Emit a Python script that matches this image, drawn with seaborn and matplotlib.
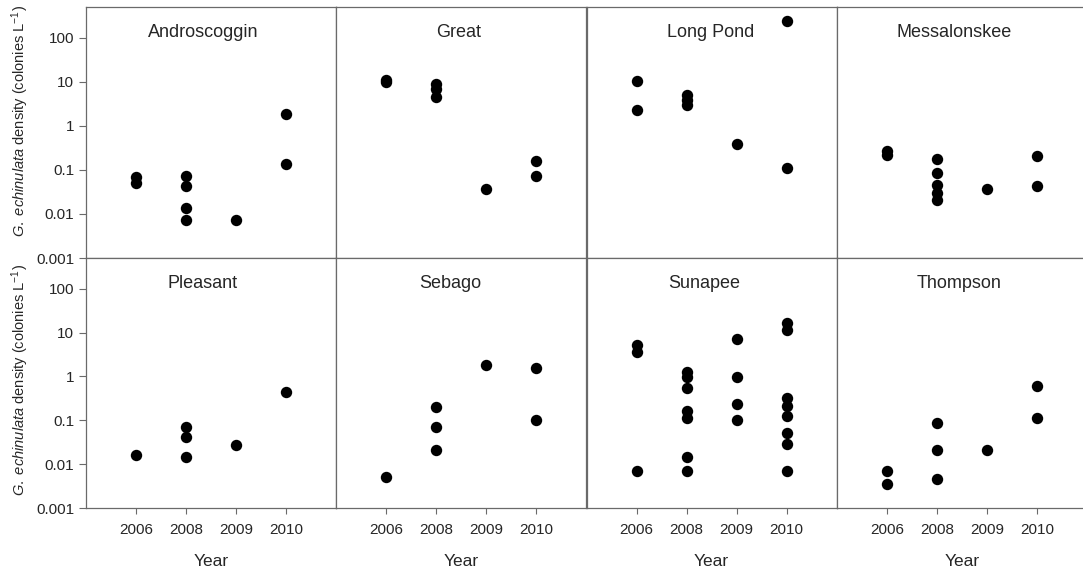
import numpy as np
import pandas as pd
import matplotlib
matplotlib.use("Agg")
import matplotlib.pyplot as plt
from matplotlib.ticker import NullLocator
import seaborn as sns

# Colony density per lake, sampling year -> individual samples (colonies per litre)
years = [2006, 2008, 2009, 2010]
year_labels = ["2006", "2008", "2009", "2010"]
lakes = ["Androscoggin", "Great", "Long Pond", "Messalonskee",
         "Pleasant", "Sebago", "Sunapee", "Thompson"]

androscoggin = {2006: [0.070, 0.051], 2008: [0.074, 0.044, 0.014, 0.0072],
                2009: [0.0072], 2010: [1.9, 0.134]}
great = {2006: [11.0, 10.0], 2008: [8.9, 7.0, 4.6],
         2009: [0.036], 2010: [0.158, 0.072]}
long_pond = {2006: [10.6, 2.28], 2008: [5.0, 3.9, 3.0],
             2009: [0.38], 2010: [243.0, 0.108]}
messalonskee = {2006: [0.27, 0.22], 2008: [0.174, 0.087, 0.046, 0.030, 0.021],
                2009: [0.036], 2010: [0.21, 0.044]}
pleasant = {2006: [0.016], 2008: [0.072, 0.042, 0.0144],
            2009: [0.028], 2010: [0.43]}
sebago = {2006: [0.0052], 2008: [0.20, 0.072, 0.021],
          2009: [1.81], 2010: [1.55, 0.10]}
sunapee = {2006: [5.3, 3.6, 0.0071],
           2008: [1.23, 0.96, 0.54, 0.164, 0.115, 0.0144, 0.0071],
           2009: [7.1, 0.96, 0.237, 0.10],
           2010: [16.5, 11.6, 0.32, 0.213, 0.122, 0.051, 0.029, 0.0071]}
thompson = {2006: [0.0071, 0.0035], 2008: [0.086, 0.021, 0.0046],
            2009: [0.021], 2010: [0.59, 0.115]}

lake_data = [androscoggin, great, long_pond, messalonskee,
             pleasant, sebago, sunapee, thompson]

rows = []
for lake, d in zip(lakes, lake_data):
    for yr, vals in d.items():
        for v in vals:
            rows.append({"lake": lake, "year": str(yr), "density": v})
df = pd.DataFrame(rows)

y_ticks = [0.001, 0.01, 0.1, 1, 10, 100]
y_tick_labels = ["0.001", "0.01", "0.1", "1", "10", "100"]

sns.set_style("white")
plt.rcParams["font.family"] = ["Liberation Sans", "DejaVu Sans"]
plt.rcParams["mathtext.fontset"] = "custom"
plt.rcParams["mathtext.rm"] = "Liberation Sans"
plt.rcParams["mathtext.it"] = "Liberation Sans:italic"

TEXT = "#262626"
FRAME = "#6a6a6a"

W, H = 1083, 577
fig = plt.figure(figsize=(W / 100, H / 100), dpi=100)
left0, colw = 86, 250.25
row_spans = [(7, 258), (258, 508)]
title_x = [0.468, 0.488, 0.496, 0.468, 0.466, 0.455, 0.472, 0.488]

for i, lake in enumerate(lakes):
    r, c = divmod(i, 4)
    top, bot = row_spans[r]
    ax = fig.add_axes([(left0 + c * colw) / W, 1 - bot / H,
                       colw / W, (bot - top) / H])
    sub = df[df["lake"] == lake]
    sns.stripplot(data=sub, x="year", y="density", order=year_labels,
                  jitter=False, color="black", size=8.2, linewidth=0,
                  log_scale=(False, True), ax=ax)
    ax.set_xlim(-1, 4)
    ax.set_ylim(1e-3, 10 ** 2.7)
    ax.set_yticks(y_ticks)
    ax.set_yticklabels(y_tick_labels)
    ax.yaxis.set_minor_locator(NullLocator())
    ax.set_xlabel("")
    ax.set_ylabel("")
    for sp in ax.spines.values():
        sp.set_visible(True)
        sp.set_color(FRAME)
        sp.set_linewidth(0.9)
    ax.tick_params(axis="y", which="major", length=5, width=0.8, color=FRAME,
                   labelsize=11, labelcolor=TEXT, pad=3.5,
                   left=(c == 0), labelleft=(c == 0))
    ax.tick_params(axis="x", which="major", length=4.5, width=0.8, color=FRAME,
                   labelsize=11, labelcolor=TEXT, pad=6,
                   bottom=(r == 1), labelbottom=(r == 1))
    ax.text(title_x[i], 0.90, lake, transform=ax.transAxes,
            ha="center", va="center", fontsize=13, color=TEXT)
    if r == 1:
        fig.text((left0 + (c + 0.5) * colw) / W, 1 - 561.5 / H, "Year",
                 ha="center", va="center", fontsize=12.5, color=TEXT)

ylabel = r"$\it{G.\ echinulata}$ density (colonies L$^{-1}$)"
for yc in (121.5, 380):
    fig.text(20 / W, 1 - yc / H, ylabel, rotation=90, ha="center",
             va="center", fontsize=10.5, color=TEXT)

fig.savefig("out.png", dpi=100)
